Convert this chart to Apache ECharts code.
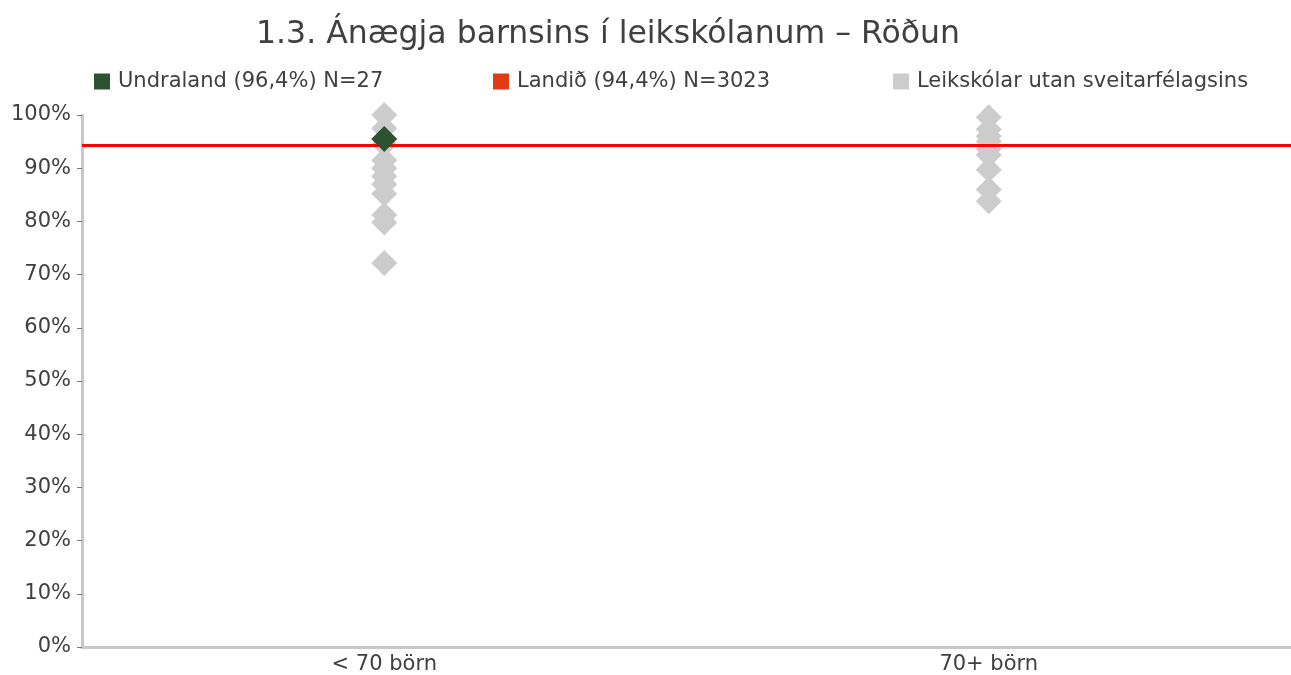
<!DOCTYPE html>
<html>
<head>
<meta charset="utf-8">
<script src="https://cdn.jsdelivr.net/npm/echarts@6/dist/echarts.min.js"></script>
<style>html,body{margin:0;padding:0;background:#fff}#c{width:1291px;height:675px}</style>
</head>
<body>
<div id="c"></div>
<script>
const categories = ['< 70 börn', '70+ börn'];
const greySmall = [100, 97.5, 94.5, 91.5, 90, 88.5, 87, 85.2, 81.2, 79.8, 72.2];
const greyLarge = [99.6, 97.3, 96, 95, 93.6, 92.5, 89.7, 86, 83.8];
const undraland = [[0, 95.5]];
const landid = 94.4;
const seriesNames = ['Undraland (96,4%) N=27', 'Landið (94,4%) N=3023', 'Leikskólar utan sveitarfélagsins'];

const greyData = greySmall.map(v => [0, v]).concat(greyLarge.map(v => [1, v]));
const font = 'DejaVu Sans';
const txt = '#404040';
const legendText = { fontFamily: font, fontSize: 21, color: txt, padding: [0, 0, 0, 3] };

const chart = echarts.init(document.getElementById('c'));
chart.setOption({
  animation: false,
  title: {
    text: '1.3. Ánægja barnsins í leikskólanum – Röðun',
    left: 603, top: 14, textAlign: 'center',
    textStyle: { fontFamily: font, fontSize: 31.5, fontWeight: 'normal', color: txt }
  },
  legend: [
    { data: [seriesNames[0]], left: 89, top: 66, icon: 'rect', itemWidth: 16, itemHeight: 16, textStyle: legendText },
    { data: [seriesNames[1]], left: 488, top: 66, icon: 'rect', itemWidth: 16, itemHeight: 16, textStyle: legendText },
    { data: [seriesNames[2]], left: 888, top: 66, icon: 'rect', itemWidth: 16, itemHeight: 16, textStyle: legendText }
  ],
  grid: { left: 82, right: 0, top: 115, bottom: 28, containLabel: false },
  xAxis: {
    type: 'category', data: categories, boundaryGap: true,
    axisLine: { lineStyle: { color: '#c8c8c8', width: 3 } },
    axisTick: { show: false },
    axisLabel: { fontFamily: font, fontSize: 21, color: txt, margin: 7 }
  },
  yAxis: {
    type: 'value', min: 0, max: 100, interval: 10,
    axisLine: { show: true, lineStyle: { color: '#c8c8c8', width: 3 } },
    axisTick: { show: true, length: 5, lineStyle: { color: '#777', width: 1 } },
    splitLine: { show: false },
    axisLabel: { formatter: '{value}%', fontFamily: font, fontSize: 21, color: txt, margin: 11 }
  },
  series: [
    {
      name: seriesNames[1], type: 'line', data: [], z: 1,
      itemStyle: { color: '#e03c14' },
      markLine: {
        silent: true, symbol: 'none', label: { show: false },
        lineStyle: { color: '#ff0000', width: 3, type: 'solid' },
        data: [{ yAxis: landid }]
      }
    },
    {
      name: seriesNames[2], type: 'scatter', data: greyData, z: 3,
      symbol: 'diamond', symbolSize: 26,
      itemStyle: { color: '#cccccc', opacity: 1 }
    },
    {
      name: seriesNames[0], type: 'scatter', data: undraland, z: 5,
      symbol: 'diamond', symbolSize: 26,
      itemStyle: { color: '#2d5231', opacity: 1 }
    }
  ]
});
</script>
</body>
</html>
